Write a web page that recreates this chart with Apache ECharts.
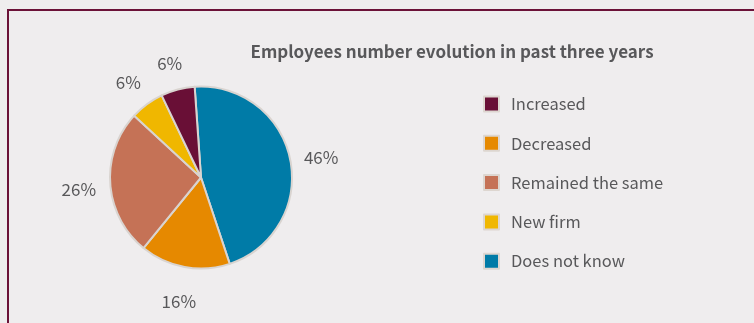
<!DOCTYPE html>
<html>
<head>
<meta charset="utf-8">
<script src="https://cdn.jsdelivr.net/npm/echarts@6/dist/echarts.min.js"></script>
<style>
  html, body { margin: 0; padding: 0; background: #efedee; }
  #chart { width: 754px; height: 323px; }
</style>
</head>
<body>
<div id="chart"></div>
<script>
// Survey answers: how the number of employees changed over the past three years
const categories = ['Increased', 'Decreased', 'Remained the same', 'New firm', 'Does not know'];
const shares = [6, 16, 26, 6, 46];
const colors = ['#690f36', '#e68900', '#c57256', '#f0b700', '#007ba7'];
// Order in which the slices run clockwise from the top
const sliceOrder = [4, 1, 2, 3, 0];

const FONT = '"Noto Sans CJK SC", "DejaVu Sans Condensed", sans-serif';
const TEXT = '#58585a';

const pieData = sliceOrder.map(i => ({
  name: categories[i],
  value: shares[i],
  itemStyle: { color: colors[i] }
}));

// Transparent ring whose only job is to carry the percentage labels around the pie
const labelRing = sliceOrder.map(i => ({ name: categories[i], value: shares[i] }));

const chart = echarts.init(document.getElementById('chart'), null, { renderer: 'canvas' });
chart.setOption({
  backgroundColor: '#efedee',
  animation: false,
  title: {
    text: 'Employees number evolution in past three years',
    left: 447,
    top: 38,
    textAlign: 'center',
    textStyle: { fontFamily: FONT, fontSize: 17, fontWeight: 'bold', color: TEXT }
  },
  legend: {
    orient: 'vertical',
    left: 483,
    top: 94,
    padding: 0,
    itemGap: 19.3,
    itemWidth: 15,
    itemHeight: 15,
    icon: 'rect',
    data: categories,
    itemStyle: { borderColor: '#ddd6d0', borderWidth: 2 },
    textStyle: { fontFamily: FONT, fontSize: 16.5, lineHeight: 20, color: TEXT, padding: [0, 0, 0, 7] }
  },
  graphic: [{
    type: 'rect',
    silent: true,
    shape: { x: 8, y: 10, width: 900, height: 500 },
    style: { fill: 'none', stroke: '#6b1238', lineWidth: 2 }
  }],
  series: [
    {
      type: 'pie',
      center: [201, 177.5],
      radius: 91,
      clockwise: true,
      startAngle: 94,
      silent: true,
      avoidLabelOverlap: false,
      label: { show: false },
      labelLine: { show: false },
      itemStyle: { borderColor: '#d9d4d0', borderWidth: 2 },
      data: pieData
    },
    {
      type: 'pie',
      center: [201, 177.5],
      radius: [110, 129],
      clockwise: true,
      startAngle: 94,
      silent: true,
      legendHoverLink: false,
      avoidLabelOverlap: false,
      itemStyle: { color: 'rgba(0,0,0,0)', borderWidth: 0 },
      label: {
        show: true,
        position: 'inside',
        formatter: '{c}%',
        fontFamily: FONT,
        fontSize: 17,
        color: TEXT
      },
      labelLayout: { dy: 4 },
      labelLine: { show: false },
      data: labelRing
    }
  ]
});
</script>
</body>
</html>
